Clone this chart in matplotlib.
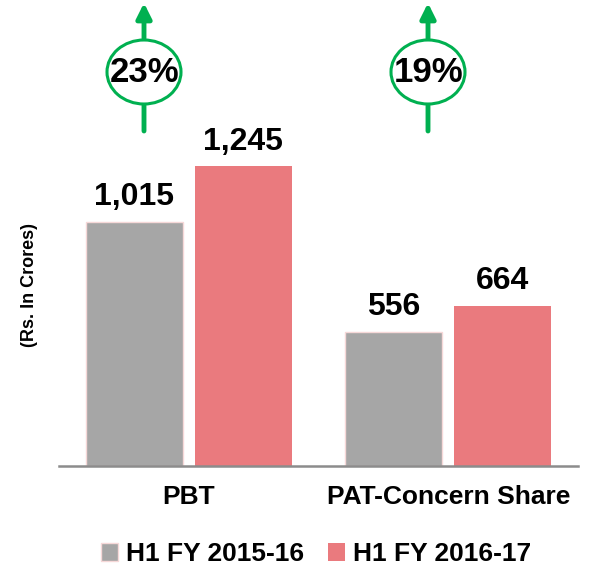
import numpy as np
import matplotlib.pyplot as plt
from matplotlib.patches import Ellipse

plt.rcParams["font.family"] = ["Liberation Sans", "DejaVu Sans"]

categories = ["PBT", "PAT-Concern Share"]
series_names = ["H1 FY 2015-16", "H1 FY 2016-17"]
values_prev = [1015, 556]
values_curr = [1245, 664]
value_labels_prev = ["1,015", "556"]
value_labels_curr = ["1,245", "664"]
growth = ["23%", "19%"]

gray = "#a6a6a6"
red = "#ea7a7e"
green = "#00b050"

W, H = 591, 575
fig = plt.figure(figsize=(W / 100, H / 100), dpi=100)
ax = fig.add_axes([59 / W, (575 - 466) / H, (578 - 59) / W, (466 - 141) / H])

x = np.arange(len(categories))
width = 0.373
off = 0.21
b1 = ax.bar(x - off, values_prev, width, color=gray, edgecolor="#f6d8d8", linewidth=1.0,
            label=series_names[0])
b2 = ax.bar(x + off, values_curr, width, color=red, label=series_names[1])

for bars, labels in [(b1, value_labels_prev), (b2, value_labels_curr)]:
    for rect, lab in zip(bars, labels):
        ax.annotate(lab, (rect.get_x() + rect.get_width() / 2, rect.get_height()),
                    xytext=(0, 12), textcoords="offset points", ha="center", va="baseline",
                    fontsize=23, fontweight="bold")

ax.set_xlim(-0.5, 1.5)
ax.set_ylim(0, 1350)
ax.set_xticks(x)
ax.set_xticklabels(categories, fontsize=19, fontweight="bold")
ax.tick_params(axis="x", length=0, pad=14)
ax.set_yticks([])
for s in ["top", "right", "left"]:
    ax.spines[s].set_visible(False)
ax.spines["bottom"].set_color("#8c8c8c")
ax.spines["bottom"].set_linewidth(1.8)

fig.text(30 / W, 1 - 285 / H, "(Rs. In Crores)", rotation=90, ha="center", va="center",
         fontsize=13, fontweight="bold")

# growth arrows with circled percentages
centers = [(144, 72), (428, 72)]
for (cx, cy), g in zip(centers, growth):
    ax.annotate("", xy=(cx / W, 1 - 3 / H), xytext=(cx / W, 1 - 131 / H),
                xycoords="figure fraction", textcoords="figure fraction",
                arrowprops=dict(arrowstyle="-|>,head_width=0.45,head_length=0.9",
                                color=green, lw=3.5, shrinkA=0, shrinkB=0),
                annotation_clip=False)
    fig.add_artist(Ellipse((cx / W, 1 - cy / H), 74 / W, 64 / H, transform=fig.transFigure,
                           facecolor="white", edgecolor=green, linewidth=2.2, zorder=5))
    fig.text(cx / W + 1 / W, 1 - cy / H, g, ha="center", va="center", fontsize=25,
             fontweight="bold", zorder=6)

fig.legend(handles=[b1, b2], labels=series_names, loc="center", bbox_to_anchor=(316 / W, 1 - 554 / H),
           ncol=2, frameon=False, prop={"weight": "bold", "size": 19},
           handlelength=0.65, handleheight=0.65, handletextpad=0.3, columnspacing=0.9)

fig.savefig("out.png", dpi=100)
